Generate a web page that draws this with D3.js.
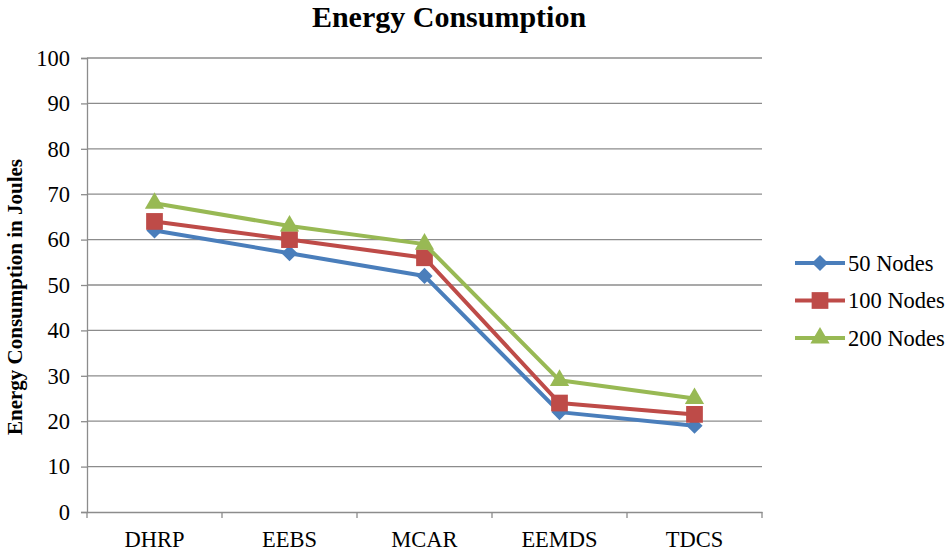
<!DOCTYPE html>
<html>
<head>
<meta charset="utf-8">
<script src="https://cdn.jsdelivr.net/npm/d3@7"></script>
<style>
  body { margin: 0; background: #fff; }
  svg text { font-family: "Times New Roman", "Liberation Serif", serif; }
</style>
</head>
<body>
<div id="chart"></div>
<script>
const categories = ["DHRP", "EEBS", "MCAR", "EEMDS", "TDCS"];
const nodes50 = [62, 57, 52, 22, 19];
const nodes100 = [64, 60, 56, 24, 21.5];
const nodes200 = [68, 63, 59, 29, 25];
const yTicks = [0, 10, 20, 30, 40, 50, 60, 70, 80, 90, 100];

const serif = "'Times New Roman', 'Liberation Serif', serif";

// Excel style diamond: a square turned 45 degrees
const squareDiamond = {
    draw(context, size) {
        const r = Math.sqrt(size) / Math.SQRT2;
        context.moveTo(0, -r);
        context.lineTo(r, 0);
        context.lineTo(0, r);
        context.lineTo(-r, 0);
        context.closePath();
    }
};

const series = [
    { name: "50 Nodes", values: nodes50, color: "#4A7EBB", symbol: squareDiamond, size: 130 },
    { name: "100 Nodes", values: nodes100, color: "#BE4B48", symbol: d3.symbolSquare, size: 280 },
    { name: "200 Nodes", values: nodes200, color: "#98B954", symbol: d3.symbolTriangle, size: 160 }
];

const width = 950, height = 551;
const margin = { top: 58, right: 188, bottom: 39, left: 87 };

const svg = d3.select("#chart").append("svg")
    .attr("width", width)
    .attr("height", height);

const x = d3.scaleBand()
    .domain(categories)
    .range([margin.left, width - margin.right]);

const y = d3.scaleLinear()
    .domain([0, 100])
    .range([height - margin.bottom, margin.top]);

// gridlines
svg.append("g")
    .selectAll("line")
    .data(yTicks.slice(1))
    .enter().append("line")
    .attr("x1", margin.left)
    .attr("x2", width - margin.right)
    .attr("y1", d => y(d))
    .attr("y2", d => y(d))
    .attr("stroke", "#8c8c8c")
    .attr("stroke-width", 1.3);

// y axis
const yAxis = svg.append("g")
    .attr("transform", `translate(${margin.left},0)`)
    .call(d3.axisLeft(y).tickValues(yTicks).tickSize(6).tickPadding(11));
yAxis.attr("font-family", null).attr("font-size", null);
yAxis.select(".domain").attr("stroke", "#8c8c8c").attr("stroke-width", 1.3);
yAxis.selectAll(".tick line").attr("stroke", "#8c8c8c").attr("stroke-width", 1.3);
yAxis.selectAll(".tick text")
    .attr("fill", "#000")
    .style("font-family", serif)
    .style("font-size", "22.5px");

// x axis
const xAxis = svg.append("g")
    .attr("transform", `translate(0,${height - margin.bottom})`)
    .call(d3.axisBottom(x).tickSize(0).tickPadding(19));
xAxis.attr("font-family", null).attr("font-size", null);
xAxis.select(".domain").attr("stroke", "#8c8c8c").attr("stroke-width", 1.3);
xAxis.selectAll(".tick text")
    .attr("fill", "#000")
    .style("font-family", serif)
    .style("font-size", "22.5px");

// category boundary ticks
const bounds = categories.map(c => x(c)).concat([x(categories[categories.length - 1]) + x.bandwidth()]);
xAxis.selectAll(".bound")
    .data(bounds)
    .enter().append("line")
    .attr("class", "bound")
    .attr("x1", d => d)
    .attr("x2", d => d)
    .attr("y1", 0)
    .attr("y2", 6)
    .attr("stroke", "#8c8c8c")
    .attr("stroke-width", 1.3);

const line = d3.line()
    .x((d, i) => x(categories[i]) + x.bandwidth() / 2)
    .y(d => y(d));

series.forEach(s => {
    svg.append("path")
        .datum(s.values)
        .attr("fill", "none")
        .attr("stroke", s.color)
        .attr("stroke-width", 4)
        .attr("stroke-linejoin", "round")
        .attr("d", line);

    svg.append("g")
        .selectAll("path")
        .data(s.values)
        .enter().append("path")
        .attr("transform", (d, i) => `translate(${x(categories[i]) + x.bandwidth() / 2},${y(d)})`)
        .attr("d", d3.symbol().type(s.symbol).size(s.size))
        .attr("fill", s.color);
});

// title
svg.append("text")
    .attr("x", 449)
    .attr("y", 27)
    .attr("text-anchor", "middle")
    .style("font-family", serif)
    .style("font-size", "30px")
    .style("font-weight", "bold")
    .text("Energy Consumption");

// y label
svg.append("text")
    .attr("transform", `translate(22,${y(50) + 12}) rotate(-90)`)
    .attr("text-anchor", "middle")
    .style("font-family", serif)
    .style("font-size", "21px")
    .style("font-weight", "bold")
    .text("Energy Consumption in Joules");

// legend
const legend = svg.append("g")
    .attr("transform", "translate(795,263)");

series.forEach((s, i) => {
    const g = legend.append("g").attr("transform", `translate(0,${i * 37.5})`);
    g.append("line")
        .attr("x1", 0).attr("x2", 50)
        .attr("y1", 0).attr("y2", 0)
        .attr("stroke", s.color)
        .attr("stroke-width", 4);
    g.append("path")
        .attr("transform", "translate(25,0)")
        .attr("d", d3.symbol().type(s.symbol).size(s.size))
        .attr("fill", s.color);
    g.append("text")
        .attr("x", 53)
        .attr("y", 7.5)
        .style("font-family", serif)
        .style("font-size", "22.5px")
        .text(s.name);
});
</script>
</body>
</html>
